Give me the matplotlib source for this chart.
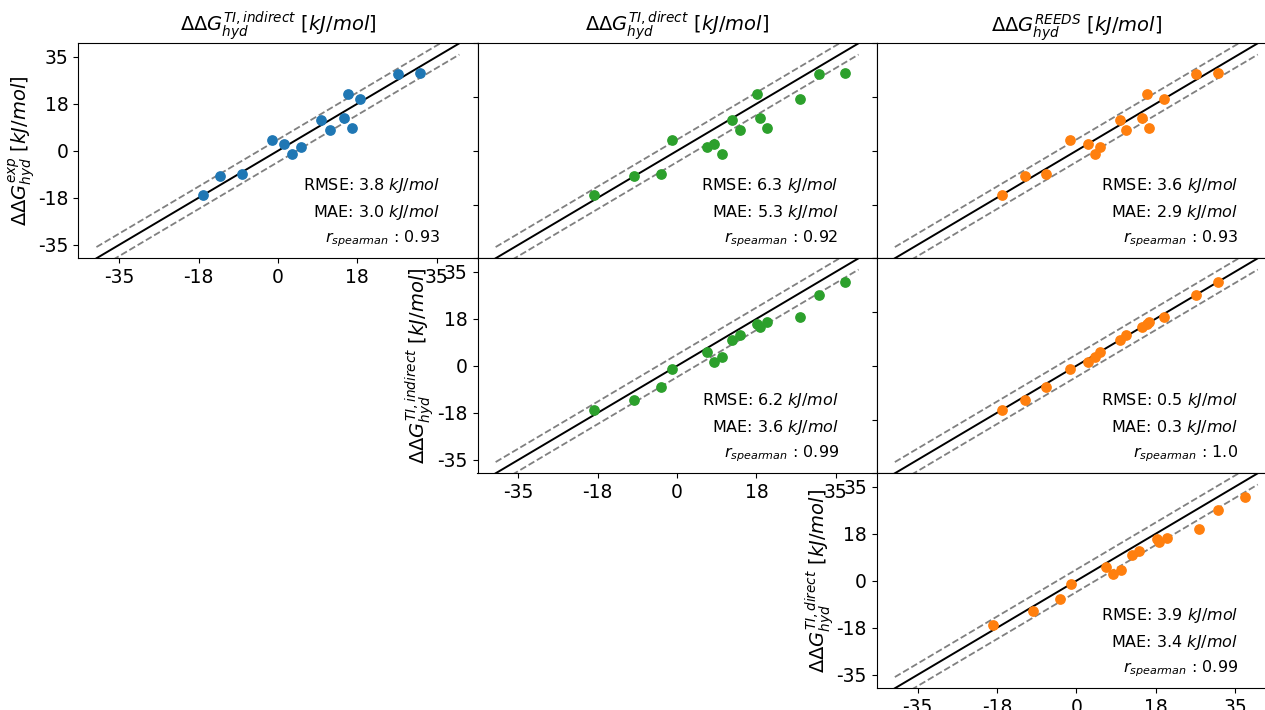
import matplotlib
matplotlib.use('Agg')
import matplotlib.pyplot as plt
import numpy as np

# hydration free energy differences (kJ/mol), one entry per perturbation
exp = [-16.5, -9.4, -8.7, 4.2, 2.4, -1.35, 1.3, 11.3, 7.7, 12.1, 21.0, 8.5, 19.3, 28.4, 29.1]
ti_indirect = [-16.5, -12.8, -7.95, -1.33, 1.3, 3.2, 5.15, 9.6, 11.4, 14.5, 15.45, 16.25, 18.15, 26.4, 31.35]
ti_direct = [-18.3, -9.5, -3.5, -1.2, 8.2, 9.9, 6.5, 12.2, 13.9, 18.2, 17.7, 19.9, 27.1, 31.2, 37.1]
reeds = [-16.4, -11.4, -6.6, -1.3, 2.5, 4.2, 5.2, 9.55, 11.0, 14.55, 15.6, 15.95, 19.4, 26.35, 31.2]

col_titles = [r'$\Delta\Delta G_{hyd}^{TI, indirect}$ $[kJ/mol]$',
              r'$\Delta\Delta G_{hyd}^{TI, direct}$ $[kJ/mol]$',
              r'$\Delta\Delta G_{hyd}^{REEDS}$ $[kJ/mol]$']
row_labels = [r'$\Delta\Delta G_{hyd}^{exp}$ $[kJ/mol]$',
              r'$\Delta\Delta G_{hyd}^{TI, indirect}$ $[kJ/mol]$',
              r'$\Delta\Delta G_{hyd}^{TI, direct}$ $[kJ/mol]$']

# (fila, columna, x, y, color, rmse, mae, spearman)
paneles = [
    (0, 0, ti_indirect, exp, 'tab:blue', '3.8', '3.0', '0.93'),
    (0, 1, ti_direct, exp, 'tab:green', '6.3', '5.3', '0.92'),
    (0, 2, reeds, exp, 'tab:orange', '3.6', '2.9', '0.93'),
    (1, 1, ti_direct, ti_indirect, 'tab:green', '6.2', '3.6', '0.99'),
    (1, 2, reeds, ti_indirect, 'tab:orange', '0.5', '0.3', '1.0'),
    (2, 2, ti_direct, reeds, 'tab:orange', '3.9', '3.4', '0.99'),
]

W, H = 1265, 710
fig = plt.figure(figsize=(W / 100, H / 100), dpi=100)

col_left = [78.3, 477.5, 876.7]
row_top = [43.3, 258.3, 473.3]
ancho, alto = 399.2, 215.0

ticks = np.linspace(-35, 35, 5)
tick_labels = [str(int(np.round(t))) for t in ticks]
recta = np.linspace(-40, 40, 2)
kcal = 4.184

for fila, col, x, y, color, rmse, mae, rs in paneles:
    ax = fig.add_axes([col_left[col] / W, 1 - (row_top[fila] + alto) / H, ancho / W, alto / H])
    ax.plot(recta, recta, color='k', lw=1.4)
    ax.plot(recta, recta + kcal, color='grey', ls='--', lw=1.3)
    ax.plot(recta, recta - kcal, color='grey', ls='--', lw=1.3)
    ax.scatter(x, y, color=color, s=45, zorder=3)
    ax.set_xlim(-44, 44)
    ax.set_ylim(-40, 40)

    if fila == col:
        ax.set_xticks(ticks)
        ax.set_xticklabels(tick_labels)
        ax.set_yticks(ticks)
        ax.set_yticklabels(tick_labels)
        ax.set_ylabel(row_labels[fila], fontsize=14, labelpad=0)
    else:
        ax.tick_params(labelbottom=False, labelleft=False)
    ax.tick_params(labelsize=13.5)

    if fila == 0:
        ax.set_title(col_titles[col], fontsize=14)

    ax.text(0.905, 0.34, f'RMSE: {rmse} $kJ/mol$', transform=ax.transAxes,
            ha='right', va='center', fontsize=11.5)
    ax.text(0.905, 0.215, f'MAE: {mae} $kJ/mol$', transform=ax.transAxes,
            ha='right', va='center', fontsize=11.5)
    ax.text(0.905, 0.09, r'$r_{spearman}$' + f' : {rs}', transform=ax.transAxes,
            ha='right', va='center', fontsize=11.5)

fig.savefig('out.png', dpi=100)
plt.close(fig)
